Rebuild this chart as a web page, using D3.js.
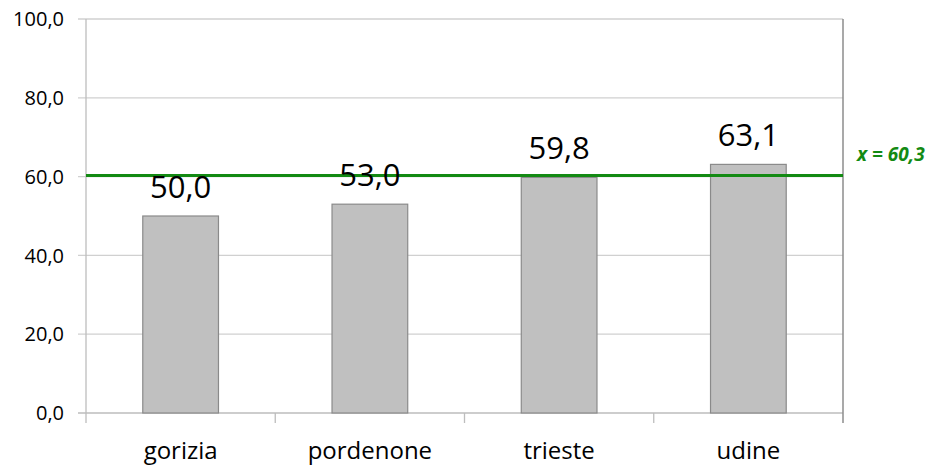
<!DOCTYPE html>
<html>
<head>
<meta charset="utf-8">
<style>
  body { margin: 0; background: #fff; }
  text { font-family: "Open Sans", sans-serif; fill: #000; }
</style>
</head>
<body>
<svg width="937" height="465"></svg>
<script src="https://d3js.org/d3.v7.min.js"></script>
<script>
const categories = ["gorizia", "pordenone", "trieste", "udine"];
const values = [50.0, 53.0, 59.8, 63.1];
const yTicks = [0, 20, 40, 60, 80, 100];
const meanValue = 60.3;
const meanLabel = "x = 60,3";

const fmt = v => d3.format(".1f")(v).replace(".", ",");

const margin = {left: 86, right: 94, top: 19, bottom: 52};
const width = 937, height = 465;

let svg = d3.select("svg");

let x = d3.scaleBand().domain(categories)
  .range([margin.left, width - margin.right])
  .paddingInner(0.6).paddingOuter(0.3);
let xEdge = d3.scaleLinear().domain([0, categories.length])
  .range([margin.left, width - margin.right]);
let y = d3.scaleLinear().domain([0, 100]).range([height - margin.bottom, margin.top]);

// gridlines + left ticks
svg.append("g").selectAll("line").data(yTicks.filter(d => d > 0)).enter().append("line")
  .attr("x1", margin.left - 8).attr("x2", width - margin.right)
  .attr("y1", d => y(d)).attr("y2", d => y(d))
  .attr("stroke", "#d0d0d0").attr("stroke-width", 1.3);

// y tick labels
svg.append("g").selectAll("text").data(yTicks).enter().append("text")
  .attr("x", margin.left - 22).attr("y", d => y(d)).attr("dy", "0.36em")
  .attr("text-anchor", "end").attr("font-size", "20px")
  .text(d => fmt(d));

// left axis line
svg.append("line")
  .attr("x1", margin.left).attr("x2", margin.left)
  .attr("y1", y(100)).attr("y2", y(0) + 10)
  .attr("stroke", "#bdbdbd").attr("stroke-width", 1.3);

// bottom axis + category boundary ticks
svg.append("line")
  .attr("x1", margin.left - 8).attr("x2", width - margin.right)
  .attr("y1", y(0)).attr("y2", y(0))
  .attr("stroke", "#bdbdbd").attr("stroke-width", 1.3);
svg.append("g").selectAll("line").data(d3.range(1, categories.length)).enter().append("line")
  .attr("x1", d => xEdge(d)).attr("x2", d => xEdge(d))
  .attr("y1", y(0)).attr("y2", y(0) + 10)
  .attr("stroke", "#bdbdbd").attr("stroke-width", 1.3);

// right border
svg.append("line")
  .attr("x1", xEdge(categories.length)).attr("x2", xEdge(categories.length))
  .attr("y1", y(100)).attr("y2", y(0) + 10)
  .attr("stroke", "#8c8c8c").attr("stroke-width", 1.5);

// bars
svg.append("g").selectAll("rect").data(values).enter().append("rect")
  .attr("x", (d, i) => x(categories[i]))
  .attr("width", x.bandwidth())
  .attr("y", d => y(d))
  .attr("height", d => y(0) - y(d))
  .attr("fill", "#c0c0c0").attr("stroke", "#8a8a8a").attr("stroke-width", 1.2);

// mean line
svg.append("line")
  .attr("x1", margin.left).attr("x2", xEdge(categories.length))
  .attr("y1", y(meanValue)).attr("y2", y(meanValue))
  .attr("stroke", "#138a13").attr("stroke-width", 3);

// value labels
svg.append("g").selectAll("text").data(values).enter().append("text")
  .attr("x", (d, i) => x(categories[i]) + x.bandwidth() / 2)
  .attr("y", d => y(d) - 18)
  .attr("text-anchor", "middle").attr("font-size", "31px")
  .text(d => fmt(d));

// category labels
svg.append("g").selectAll("text").data(categories).enter().append("text")
  .attr("x", d => x(d) + x.bandwidth() / 2)
  .attr("y", height - 6)
  .attr("text-anchor", "middle").attr("font-size", "24px")
  .text(d => d);

// mean label
svg.append("text")
  .attr("x", 857).attr("y", y(meanValue) - 14)
  .attr("font-size", "19px").attr("font-weight", "bold").attr("font-style", "italic")
  .style("fill", "#138a13")
  .text(meanLabel);
</script>
</body>
</html>
